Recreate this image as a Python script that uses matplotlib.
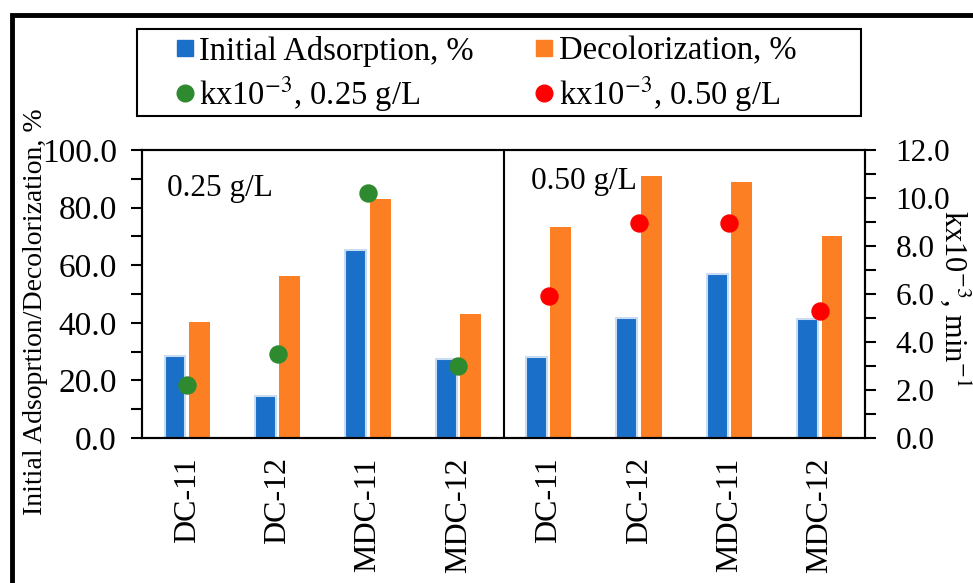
import matplotlib.pyplot as plt
import numpy as np
from matplotlib.patches import Rectangle
from matplotlib.lines import Line2D
from matplotlib.ticker import MultipleLocator, FormatStrFormatter

plt.rcParams['font.family'] = ['Liberation Serif', 'DejaVu Serif']
plt.rcParams['mathtext.fontset'] = 'stix'

categories = ['DC-11', 'DC-12', 'MDC-11', 'MDC-12', 'DC-11', 'DC-12', 'MDC-11', 'MDC-12']
initial_adsorption = [28.5, 14.7, 65.3, 27.5, 28.0, 41.7, 57.0, 41.3]
decolorization = [40.3, 56.2, 83.0, 43.0, 73.3, 91.0, 89.0, 70.0]
k_025 = [2.2, 3.5, 10.2, 3.0]
k_050 = [5.9, 8.95, 8.95, 5.3]

BLUE = '#1a6fc8'
ORANGE = '#fd7f23'
GREEN = '#2e8a2e'
RED = '#ff0000'

fig = plt.figure(figsize=(9.73, 5.83), dpi=100)
ax = fig.add_axes([142 / 973, 1 - 438 / 583, (865 - 142) / 973, (438 - 150) / 583])
ax2 = ax.twinx()

x = np.arange(len(categories)) + 0.5
w = 0.23
ax.bar(x - 0.135, initial_adsorption, w, color=BLUE, edgecolor='#c9dcf2', linewidth=1.5, zorder=2)
ax.bar(x + 0.135, decolorization, w, color=ORANGE, edgecolor='none', zorder=2)
ax2.scatter(x[:4], k_025, s=150, color=GREEN, zorder=3)
ax2.scatter(x[4:], k_050, s=150, color=RED, zorder=3)

ax.set_xlim(0, 8)
ax.set_ylim(0, 100)
ax2.set_ylim(0, 12)
ax.axvline(4, color='black', lw=1.5)

ax.set_xticks(x)
ax.set_xticklabels(categories, rotation=90, fontsize=23)
ax.tick_params(axis='x', length=0, pad=14)

ax.yaxis.set_major_locator(MultipleLocator(20))
ax.yaxis.set_minor_locator(MultipleLocator(10))
ax.yaxis.set_major_formatter(FormatStrFormatter('%.1f'))
ax2.yaxis.set_major_locator(MultipleLocator(2))
ax2.yaxis.set_minor_locator(MultipleLocator(1))
ax2.yaxis.set_major_formatter(FormatStrFormatter('%.1f'))
ax.tick_params(axis='y', which='both', direction='out', length=8, width=1.5, labelsize=24, pad=10)
ax2.tick_params(axis='y', which='both', direction='out', length=8, width=1.5, labelsize=22.5, pad=14)
for a in (ax, ax2):
    for s in a.spines.values():
        s.set_linewidth(1.5)

ax.text(0.28, 86.5, '0.25 g/L', fontsize=22.5, va='center')
ax.text(4.3, 89, '0.50 g/L', fontsize=22.5, va='center')

fig.text(36 / 973, 1 - 312 / 583, 'Initial Adsoprtion/Decolorization, %', rotation=90,
         fontsize=20, ha='center', va='center')
fig.text(955 / 973, 1 - 298 / 583, 'kx10$^{-3}$, min$^{-1}$', rotation=-90,
         fontsize=22, ha='center', va='center')

handles = [
    Line2D([], [], marker='s', ls='none', color=BLUE, markersize=11),
    Line2D([], [], marker='o', ls='none', color=GREEN, markersize=12),
    Line2D([], [], marker='s', ls='none', color=ORANGE, markersize=11),
    Line2D([], [], marker='o', ls='none', color=RED, markersize=12),
]
labels = ['Initial Adsorption, %', 'kx10$^{-3}$, 0.25 g/L', 'Decolorization, %', 'kx10$^{-3}$, 0.50 g/L']
leg = fig.legend(handles, labels, ncol=2, fontsize=23.5, loc='center',
                 bbox_to_anchor=(484 / 973, 1 - 75 / 583), frameon=False,
                 handletextpad=0.05, columnspacing=1.75, labelspacing=0.25,
                 handlelength=0.8, borderpad=0.15, borderaxespad=0)

# legend frame, wider than the legend contents
fig.patches.append(Rectangle((137 / 973, 1 - 116 / 583), (861 - 137) / 973, 87 / 583,
                             transform=fig.transFigure, fill=False, lw=1.5, ec='black'))

# thick outer frame (bottom and right edges run off the image)
fig.patches.append(Rectangle((12 / 973, -0.05), 1.0, 1.05 - 15 / 583,
                             transform=fig.transFigure, fill=False, lw=3.5, ec='black'))

fig.savefig('out.png', dpi=100)
